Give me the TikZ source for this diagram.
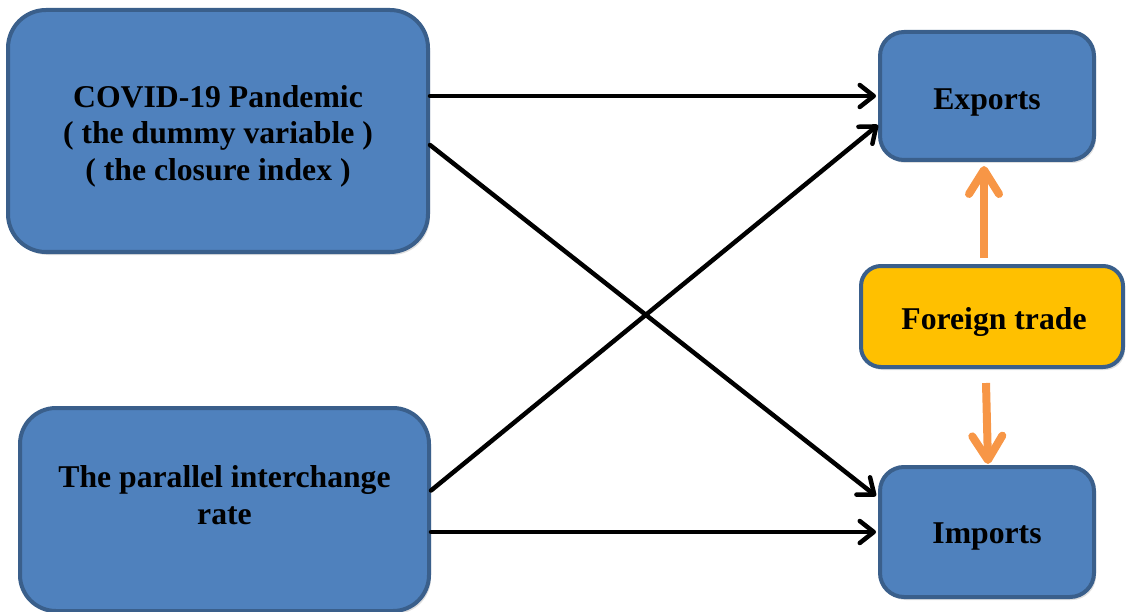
\documentclass[tikz,border=0pt]{standalone}
\usepackage{fontspec}
\setmainfont{Liberation Serif}
\usetikzlibrary{arrows.meta,calc,shadows}
\definecolor{boxblue}{HTML}{4F81BD}
\definecolor{boxedge}{HTML}{3A5F8B}
\definecolor{trdyellow}{HTML}{FFC000}
\definecolor{arrorange}{HTML}{F79646}
\tikzset{
  bluebox/.style={draw=boxedge, fill=boxblue, line width=4pt, inner sep=0pt,
    drop shadow={opacity=0.25, shadow xshift=2pt, shadow yshift=-3pt}},
  yellowbox/.style={bluebox, fill=trdyellow},
  txt/.style={align=center, font=\bfseries\fontsize{31.7}{36.5}\selectfont, inner sep=0pt},
  blackarrow/.style={draw=black, line width=4.5pt, line cap=round,
    -{Straight Barb[round,length=14pt,width=22pt]}},
  orangearrow/.style={draw=arrorange, line width=8pt,
    -{Straight Barb[round,length=24pt,width=30pt]}}
}
\begin{document}
\begin{tikzpicture}[x=1pt,y=-1pt]
\useasboundingbox (0,0) rectangle (1126,612);
\node[bluebox, rounded corners=38pt, minimum width=420pt, minimum height=242pt] (covid) at (218,131) {};
\node[txt] (covidtext) at (218,136) {COVID-19 Pandemic\\( the dummy variable )\\( the closure index )};
\node[bluebox, rounded corners=36pt, minimum width=409pt, minimum height=203pt] (par) at (224.5,509.5) {};
\node[txt] (partext) at (224.5,495) {The parallel interchange\\rate};
\node[bluebox, rounded corners=24pt, minimum width=214pt, minimum height=128pt] (exports) at (987,96) {};
\node[txt] (exportstext) at (987,102) {Exports};
\node[yellowbox, rounded corners=20pt, minimum width=262pt, minimum height=101pt] (trade) at (992,316.5) {};
\node[txt] (tradetext) at (994,322) {Foreign trade};
\node[bluebox, rounded corners=24pt, minimum width=214pt, minimum height=130pt] (imports) at (987,532) {};
\node[txt] (importstext) at (987,536) {Imports};

\draw[blackarrow] (covid.east |- exports.west) -- ($(exports.west)+(-2,0)$);
\draw[blackarrow] ($(covid.east)+(0,14)$) -- ($(imports.west)+(-2,-36)$);
\draw[blackarrow] ($(par.east)+(0,-19)$) -- ($(exports.west)+(0,29)$);
\draw[blackarrow] (par.east |- imports.west) -- ($(imports.west)+(-2,0)$);

\draw[orangearrow] ($(trade.north)+(-8,-6)$) -- ($(exports.south)+(-3,4)$);
\draw[orangearrow] ($(trade.south)+(-6,14)$) -- ($(imports.north)+(1,-1)$);
\end{tikzpicture}
\end{document}
